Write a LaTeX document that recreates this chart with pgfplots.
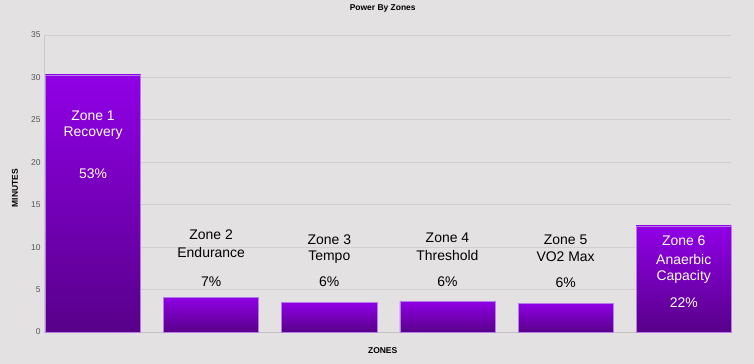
\documentclass[border=0pt]{standalone}
\usepackage{pgfplots}
\pgfplotsset{compat=1.18}
\usepackage{fontspec}
\setmainfont{Liberation Sans}
\definecolor{bgc}{HTML}{E3E1E2}
\definecolor{gridc}{HTML}{D0CECF}
\definecolor{bartop}{HTML}{9000E6}
\definecolor{barbot}{HTML}{58008A}
\definecolor{baredge}{HTML}{B57BE6}
\definecolor{tickc}{HTML}{555555}
\tikzset{zbar/.style={draw=none, top color=bartop, bottom color=barbot, shading=axis},
  zedge/.style={draw=baredge, line width=0.6pt, fill=none}}
\begin{document}
\begin{tikzpicture}
\fill[bgc] (-44bp,-32bp) rectangle (710bp,332bp);
\begin{axis}[
  scale only axis,
  width=687bp, height=297bp,
  xmin=-0.415, xmax=5.40,
  ymin=0, ymax=35,
  ytick={0,5,...,35},
  xtick=\empty,
  ymajorgrids,
  grid style={gridc, line width=0.8pt},
  axis line style={draw=none},
  axis x line*=bottom,
  axis y line*=left,
  major tick length=0pt,
  tick label style={font=\fontsize{8.5}{10}\selectfont, text=tickc},
  /pgf/number format/assume math mode=true,
  ylabel={\textbf{MINUTES}},
  ylabel style={font=\fontsize{8.5}{10}\selectfont, anchor=center, at={(axis description cs:-0.0422,0.484)}},
  xlabel={\textbf{ZONES}},
  xlabel style={font=\fontsize{8.5}{10}\selectfont, anchor=center, at={(axis description cs:0.493,-0.0630)}},
  title={\textbf{Power By Zones}},
  title style={font=\fontsize{8.5}{10}\selectfont, anchor=center, at={(axis description cs:0.493,1.0707)}},
  ybar,
  bar width=0.805,
  bar shift=0pt,
  clip=false,
]
\draw[gridc!80!black!60, line width=0.8pt] (axis cs:-0.415,0) -- (axis cs:-0.415,35);
\draw[gridc!80!black!70, line width=0.8pt] (axis cs:-0.415,0) -- (axis cs:5.40,0);
\addplot[zbar] coordinates {(0,30.3)};
\addplot[zbar] coordinates {(1,4.12)};
\addplot[zbar] coordinates {(2,3.47)};
\addplot[zbar] coordinates {(3,3.65)};
\addplot[zbar] coordinates {(4,3.40)};
\addplot[zbar] coordinates {(5,12.5)};
\addplot[zedge] coordinates {(0,30.3) (1,4.12) (2,3.47) (3,3.65) (4,3.40) (5,12.5)};
\tikzset{zl/.style={font=\fontsize{14}{16}\selectfont}}
\node[zl, text=white] at (axis cs:0,25.45) {Zone 1};
\node[zl, text=white] at (axis cs:0,23.45) {Recovery};
\node[zl, text=white] at (axis cs:0,18.6) {53\%};
\node[zl] at (axis cs:1,11.43) {Zone 2};
\node[zl] at (axis cs:1,9.31) {Endurance};
\node[zl] at (axis cs:1,5.89) {7\%};
\node[zl] at (axis cs:2,10.84) {Zone 3};
\node[zl] at (axis cs:2,8.84) {Tempo};
\node[zl] at (axis cs:2,5.89) {6\%};
\node[zl] at (axis cs:3,11.08) {Zone 4};
\node[zl] at (axis cs:3,8.96) {Threshold};
\node[zl] at (axis cs:3,5.89) {6\%};
\node[zl] at (axis cs:4,10.84) {Zone 5};
\node[zl] at (axis cs:4,8.84) {VO2 Max};
\node[zl] at (axis cs:4,5.77) {6\%};
\node[zl, text=white] at (axis cs:5,10.72) {Zone 6};
\node[zl, text=white] at (axis cs:5,8.60) {Anaerbic};
\node[zl, text=white] at (axis cs:5,6.48) {Capacity};
\node[zl, text=white] at (axis cs:5,3.42) {22\%};
\end{axis}
\end{tikzpicture}
\end{document}
